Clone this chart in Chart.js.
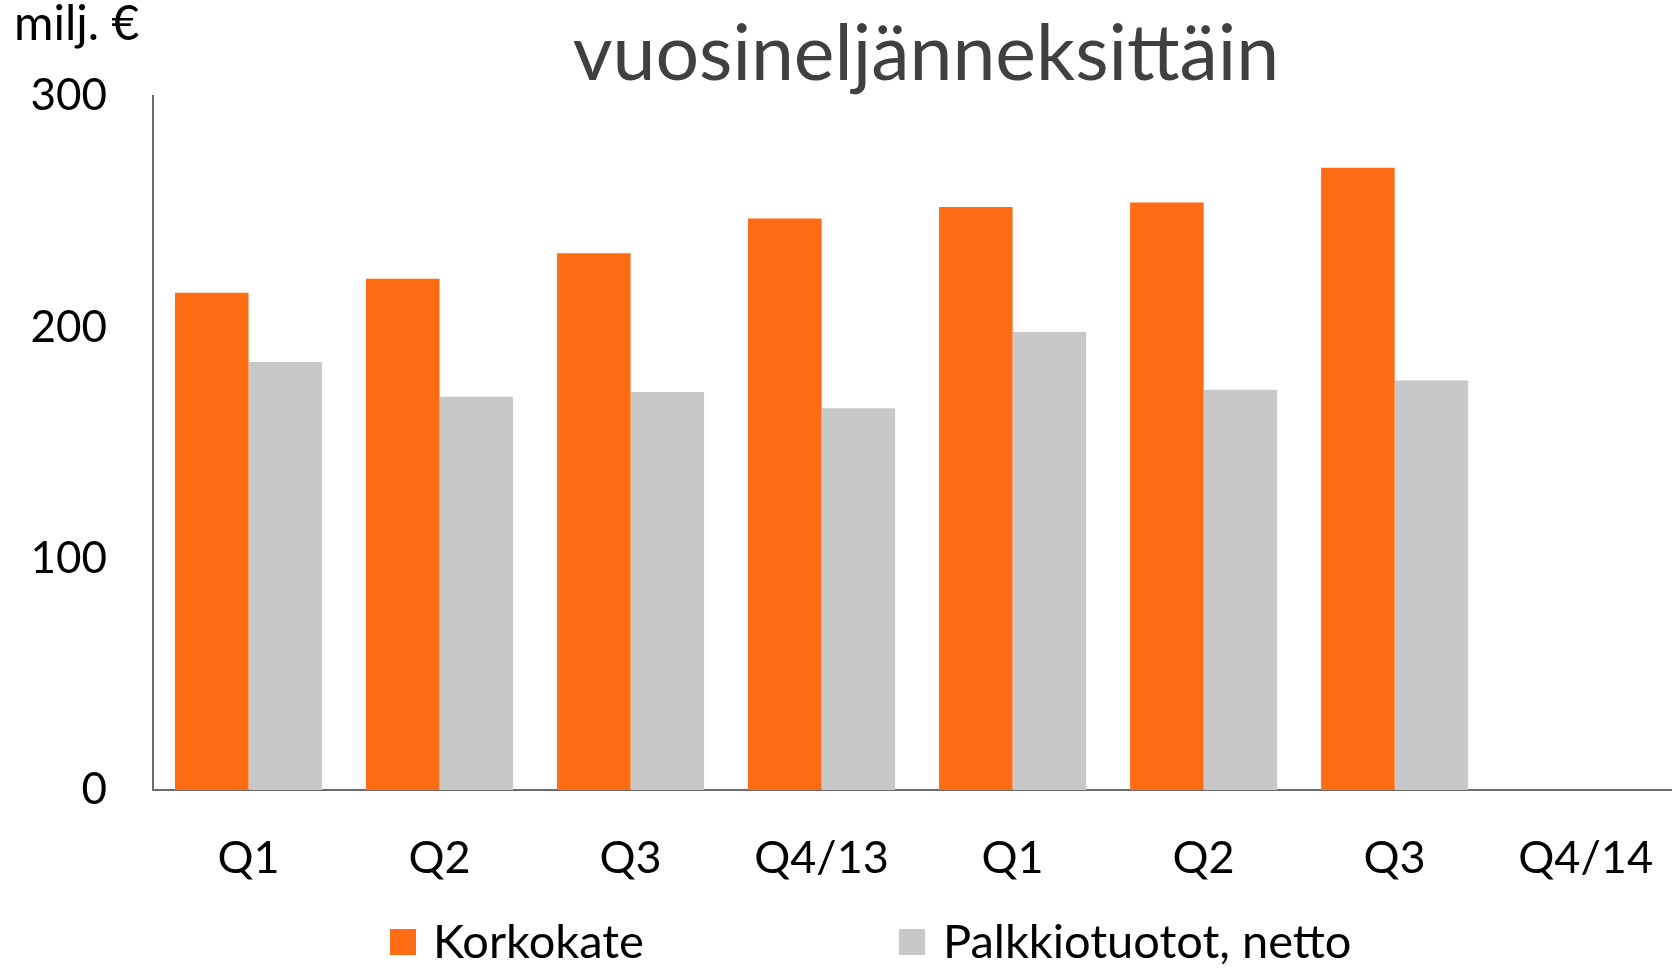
<!DOCTYPE html>
<html>
<head>
<meta charset="utf-8">
<title>vuosineljänneksittäin</title>
<script src="https://cdn.jsdelivr.net/npm/chart.js@4.4.1/dist/chart.umd.min.js"></script>
<style>
    html, body { margin: 0; padding: 0; background: #fff; overflow: hidden; }
    #chart { display: block; }
</style>
</head>
<body>
<!-- canvas a bit wider than the window: the plot runs past the right edge like the original -->
<canvas id="chart" width="1694" height="968"></canvas>
<script>
// Data (milj. €)
var quarters = ['Q1', 'Q2', 'Q3', 'Q4/13', 'Q1', 'Q2', 'Q3', 'Q4/14'];
var korkokate = [215, 221, 232, 247, 252, 254, 269, null];
var palkkiotuotot = [185, 170, 172, 165, 198, 173, 177, null];
var yTicks = [0, 100, 200, 300];

var seriesNames = ['Korkokate', 'Palkkiotuotot, netto'];
var seriesColors = ['#ff6c13', '#c8c8c8'];
var titleText = 'vuosineljänneksittäin';
var unitText = 'milj. €';
var FONT = 'Lato, "Open Sans", sans-serif';

// Title, unit label and legend drawn on top of the canvas
var textPlugin = {
    id: 'textPlugin',
    afterDraw: function(chart) {
        var ctx = chart.ctx;
        ctx.save();
        ctx.textBaseline = 'alphabetic';

        ctx.fillStyle = '#404040';
        ctx.font = '77px ' + FONT;
        ctx.textAlign = 'center';
        ctx.fillText(titleText, 926, 80);

        ctx.fillStyle = '#000';
        ctx.font = '48px ' + FONT;
        ctx.textAlign = 'left';
        ctx.fillText(unitText, 14, 40);

        // legend
        var items = [{ box: 390, text: 433 }, { box: 899, text: 943 }];
        ctx.font = '47px ' + FONT;
        items.forEach(function(it, i) {
            ctx.fillStyle = seriesColors[i];
            ctx.fillRect(it.box, 929, 26, 26);
            ctx.fillStyle = '#000';
            ctx.fillText(seriesNames[i], it.text, 958);
        });
        ctx.restore();
    }
};

var axisColor = '#6b6b6b';

new Chart(document.getElementById('chart'), {
    type: 'bar',
    data: {
        labels: quarters,
        datasets: [
            { label: seriesNames[0], data: korkokate, backgroundColor: seriesColors[0] },
            { label: seriesNames[1], data: palkkiotuotot, backgroundColor: seriesColors[1] }
        ]
    },
    options: {
        responsive: false,
        animation: false,
        categoryPercentage: 0.77,
        barPercentage: 1.0,
        layout: { padding: { top: 96, right: 0, bottom: 0, left: 0 } },
        plugins: {
            legend: { display: false },
            title: { display: false },
            tooltip: { enabled: false }
        },
        scales: {
            x: {
                grid: { display: false, drawTicks: false },
                border: { display: true, color: axisColor, width: 2 },
                ticks: {
                    color: '#000',
                    font: { family: FONT, size: 45 },
                    padding: 41,
                    maxRotation: 0,
                    autoSkip: false
                },
                afterFit: function(s) { s.height = 178; }
            },
            y: {
                min: 0,
                max: 300,
                grid: { display: false, drawTicks: false },
                border: { display: true, color: axisColor, width: 2 },
                ticks: {
                    color: '#000',
                    font: { family: FONT, size: 44 },
                    padding: 46,
                    stepSize: 100,
                    callback: function(v) { return yTicks.indexOf(v) >= 0 ? String(v) : ''; }
                },
                afterFit: function(s) { s.width = 153; }
            }
        }
    },
    plugins: [textPlugin]
});
</script>
</body>
</html>
